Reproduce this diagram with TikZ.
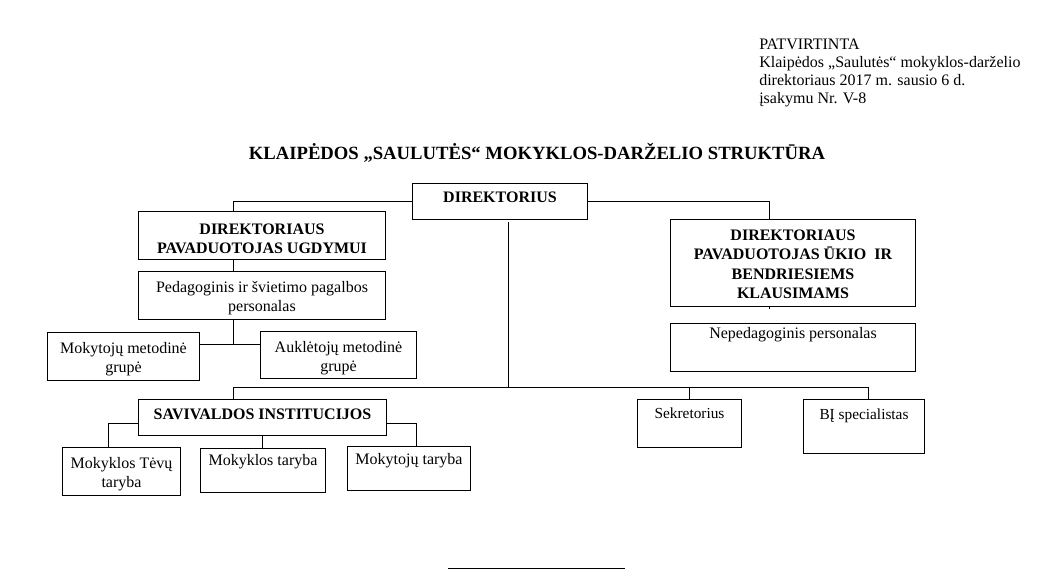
\documentclass[tikz,border=0pt]{standalone}
\usepackage{fontspec}
\setmainfont{Liberation Serif}
\newdimen\pxu \pxu=0.75pt
\newcommand\boxtxt[4]{\parbox[c][#2\pxu][t]{#1\pxu}{\vspace*{\dimexpr#3\pxu-\ht\strutbox\relax}\centering\strut #4\par}}
\tikzset{
  box/.style={draw, line width=0.75pt, inner sep=0pt, anchor=north west},
  con/.style={line width=0.75pt},
  small/.style={font=\fontsize{11.5}{14.6}\selectfont},
}
\begin{document}
\begin{tikzpicture}[x=0.75pt, y=-0.75pt, font=\fontsize{12}{14.6}\selectfont]
\fill[white] (0,0) rectangle (1038,583);
\useasboundingbox (0,0) rectangle (1038,583);

% header
\node[anchor=base west, inner sep=0pt] (hdr) at (759,49) {\fontsize{12}{13.6}\selectfont\begin{tabular}[t]{@{}l@{}}PATVIRTINTA\\ Klaipėdos „Saulutės“ mokyklos-darželio\\ direktoriaus 2017 m. sausio 6 d.\\ įsakymu Nr. V-8\end{tabular}};

% title
\node[anchor=base, inner sep=0pt, font=\fontsize{14}{16}\selectfont\bfseries] (title) at (537,159) {KLAIPĖDOS „SAULUTĖS“ MOKYKLOS-DARŽELIO STRUKTŪRA};

% boxes
\node[box] (dir) at (412,183) {\boxtxt{175}{36}{19}{\bfseries DIREKTORIUS}};
\node[box] (dpu) at (138,211) {\boxtxt{247}{48}{23}{\bfseries DIREKTORIAUS\\PAVADUOTOJAS UGDYMUI}};
\node[box] (ped) at (138,271) {\boxtxt{247}{48}{21}{Pedagoginis ir švietimo pagalbos\\personalas}};
\node[box] (mok) at (47,332) {\boxtxt{152}{48}{21}{Mokytojų metodinė\\grupė}};
\node[box] (auk) at (260,331) {\boxtxt{156}{47}{21}{Auklėtojų metodinė\\grupė}};
\node[box] (dpn) at (670,219) {\boxtxt{245}{87}{21}{\bfseries DIREKTORIAUS\\PAVADUOTOJAS ŪKIO~ IR\\BENDRIESIEMS\\KLAUSIMAMS}};
\node[box] (nep) at (670,323) {\boxtxt{245}{48}{15}{Nepedagoginis personalas}};
\node[box] (sav) at (138,399) {\boxtxt{248}{36}{20}{\bfseries SAVIVALDOS INSTITUCIJOS}};
\node[box, small] (sek) at (637,399) {\boxtxt{104}{48}{19}{Sekretorius}};
\node[box, small] (bi) at (803,399) {\boxtxt{121}{54}{20}{BĮ specialistas}};
\node[box] (tev) at (62,447) {\boxtxt{118}{48}{21}{Mokyklos Tėvų\\taryba}};
\node[box] (mt) at (200,448) {\boxtxt{125}{44}{17}{Mokyklos taryba}};
\node[box] (mkt) at (347,446) {\boxtxt{123}{44}{18}{Mokytojų taryba}};

% connectors
\coordinate (c1) at (233,211);
\coordinate (c2) at (769,219);
\draw[con] (dir.west) -| (c1);
\draw[con] (dir.east) -| (c2);
\draw[con] (dpu.south -| c1) -- (ped.north -| c1);
\coordinate (j1) at (233,344);
\draw[con] (ped.south -| j1) -- (j1);
\draw[con] (mok.east |- j1) -- (auk.west |- j1);
\coordinate (v1) at (508,222);
\coordinate (v2) at (508,387);
\draw[con] (v1) -- (v2);
\coordinate (h1) at (233,387);
\coordinate (h2) at (868,387);
\draw[con] (h1) -- (h2);
\draw[con] (h1) -- (sav.north -| h1);
\draw[con] (sek.north |- h1) -- (sek.north);
\draw[con] (h2) -- (bi.north -| h2);
\coordinate (b1) at (108,423);
\coordinate (b2) at (416,423);
\draw[con] (sav.west |- b1) -| (tev.north -| b1);
\draw[con] (sav.east |- b2) -| (mkt.north -| b2);
\draw[con] (sav.south) -- (mt.north -| sav.south);
\coordinate (t1) at (769,309);
\draw[con] (dpn.south -| c2) -- (t1);
\coordinate (l1) at (448,568);
\coordinate (l2) at (625,568);
\draw[con] (l1) -- (l2);
\end{tikzpicture}
\end{document}
